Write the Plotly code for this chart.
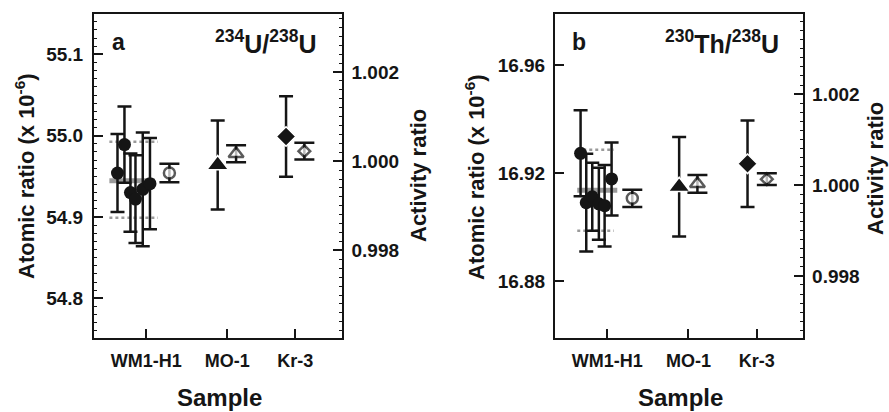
import plotly.graph_objects as go

# ---------------- data ----------------
samples = ["WM1-H1", "MO-1", "Kr-3"]
sample_pos = [1.0, 2.0, 2.84]

# panel a : 234U/238U
a_wm_x = [0.646, 0.732, 0.806, 0.868, 0.958, 1.047]
a_wm_y = [54.954, 54.989, 54.930, 54.922, 54.934, 54.941]
a_wm_err = [0.048, 0.047, 0.048, 0.054, 0.070, 0.056]
a_mean = 54.9445
a_mean_lo = 54.8990
a_mean_hi = 54.9925
a_mean_x = [0.546, 1.103]
a_band_x = [0.546, 1.144]
a_mo_x, a_mo_y, a_mo_err = [1.883], [54.964], [0.0547]
a_kr_x, a_kr_y, a_kr_err = [2.727], [54.999], [0.0496]
a_open_x = [1.287, 2.110, 2.953]
a_open_y = [0.999735, 1.000168, 1.000224]
a_open_err = [0.000206, 0.000190, 0.000187]

# panel b : 230Th/238U
b_wm_x = [0.671, 0.741, 0.815, 0.896, 0.967, 1.053]
b_wm_y = [16.9273, 16.9090, 16.9112, 16.9086, 16.9079, 16.9178]
b_wm_err = [0.0159, 0.0181, 0.0126, 0.0133, 0.0151, 0.0135]
b_mean = 16.9136
b_mean_lo = 16.8986
b_mean_hi = 16.9286
b_mean_x = [0.630, 1.123]
b_band_x = [0.630, 1.080]
b_mo_x, b_mo_y, b_mo_err = [1.885], [16.9149], [0.0184]
b_kr_x, b_kr_y, b_kr_err = [2.727], [16.9234], [0.0160]
b_open_x = [1.308, 2.110, 2.965]
b_open_y = [0.999707, 1.000026, 1.000128]
b_open_err = [0.000190, 0.000195, 0.000129]

open_symbols = ["circle", "triangle-up", "diamond"]

INK = "#151515"
GREY = "#9a9a9a"
FONT = "Liberation Sans, Arial, sans-serif"

fig = go.Figure()


def add_panel(xa, ya, ya2, wm_x, wm_y, wm_err, mean, lo, hi, mean_x, band_x,
              mo_x, mo_y, mo_err, kr_x, kr_y, kr_err, op_x, op_y, op_err):
    for v in (hi, lo):
        fig.add_trace(go.Scatter(x=band_x, y=[v, v], mode="lines", xaxis=xa, yaxis=ya,
                                 line=dict(color=GREY, width=2.5, dash="dot"),
                                 showlegend=False, hoverinfo="skip"))
    fig.add_trace(go.Scatter(x=mean_x, y=[mean, mean], mode="lines", xaxis=xa, yaxis=ya,
                             line=dict(color=GREY, width=5), showlegend=False,
                             hoverinfo="skip"))
    fig.add_trace(go.Scatter(x=wm_x, y=wm_y, mode="markers", xaxis=xa, yaxis=ya,
                             marker=dict(symbol="circle", size=13, color=INK),
                             error_y=dict(type="data", array=wm_err, color=INK,
                                          thickness=2.5, width=7),
                             showlegend=False))
    fig.add_trace(go.Scatter(x=mo_x, y=mo_y, mode="markers", xaxis=xa, yaxis=ya,
                             marker=dict(symbol="triangle-up", size=19, color=INK,
                                         line=dict(color="white", width=1.5)),
                             error_y=dict(type="data", array=mo_err, color=INK,
                                          thickness=2.5, width=7),
                             showlegend=False))
    fig.add_trace(go.Scatter(x=kr_x, y=kr_y, mode="markers", xaxis=xa, yaxis=ya,
                             marker=dict(symbol="diamond", size=15, color=INK,
                                         line=dict(color="white", width=1.5)),
                             error_y=dict(type="data", array=kr_err, color=INK,
                                          thickness=2.5, width=7),
                             showlegend=False))
    fig.add_trace(go.Scatter(x=op_x, y=op_y, mode="markers", xaxis=xa, yaxis=ya2,
                             marker=dict(symbol=open_symbols, size=[11, 13, 9],
                                         color="white", line=dict(color=INK, width=2.5)),
                             error_y=dict(type="data", array=op_err, color=INK,
                                          thickness=2.5, width=10),
                             showlegend=False))


add_panel("x", "y", "y2", a_wm_x, a_wm_y, a_wm_err, a_mean, a_mean_lo, a_mean_hi,
          a_mean_x, a_band_x, a_mo_x, a_mo_y, a_mo_err, a_kr_x, a_kr_y, a_kr_err,
          a_open_x, a_open_y, a_open_err)
add_panel("x2", "y3", "y4", b_wm_x, b_wm_y, b_wm_err, b_mean, b_mean_lo, b_mean_hi,
          b_mean_x, b_band_x, b_mo_x, b_mo_y, b_mo_err, b_kr_x, b_kr_y, b_kr_err,
          b_open_x, b_open_y, b_open_err)

W, H = 889, 412
ydom = [1 - 338 / H, 1 - 14 / H]
tickfont = dict(family=FONT, size=19, color=INK, weight="bold")

xcommon = dict(range=[0.356, 3.414], tickvals=sample_pos, ticktext=samples,
               showline=True, mirror=True, linecolor=INK, linewidth=2,
               ticks="inside", ticklen=9, tickwidth=2, tickcolor=INK,
               tickfont=dict(family=FONT, size=18, color=INK, weight="bold"),
               ticklabelstandoff=5, showgrid=False, zeroline=False)
ycommon = dict(showline=True, linecolor=INK, linewidth=2, ticks="inside", ticklen=9,
               tickwidth=2, tickcolor=INK, tickfont=tickfont, showgrid=False,
               zeroline=False)

fig.update_layout(
    width=W, height=H, margin=dict(l=0, r=0, t=0, b=0),
    paper_bgcolor="white", plot_bgcolor="white",
    xaxis=dict(domain=[94 / W, 341.7 / W], anchor="y", **xcommon),
    yaxis=dict(domain=ydom, anchor="x", range=[54.7512, 55.1496],
               tickvals=[54.8, 54.9, 55.0, 55.1], tickformat=".1f",
               ticklabelstandoff=5,
               minor=dict(dtick=0.01, ticks="inside", ticklen=3, tickwidth=1,
                          tickcolor=INK, showgrid=False),
               **ycommon),
    yaxis2=dict(overlaying="y", anchor="x", side="right", range=[0.996036, 1.0033],
                tickvals=[0.998, 1.000, 1.002], tickformat=".3f",
                ticklabelstandoff=4,
                minor=dict(dtick=0.0002, ticks="inside", ticklen=3, tickwidth=1,
                           tickcolor=INK, showgrid=False),
                **ycommon),
    xaxis2=dict(domain=[555 / W, 803.3 / W], anchor="y3", **xcommon),
    yaxis3=dict(domain=ydom, anchor="x2", range=[16.85889, 16.97889],
                tickvals=[16.88, 16.92, 16.96], tickformat=".2f",
                ticklabelstandoff=4, **ycommon),
    yaxis4=dict(overlaying="y3", anchor="x2", side="right", range=[0.996632, 1.003764],
                tickvals=[0.998, 1.000, 1.002], tickformat=".3f",
                ticklabelstandoff=3,
                minor=dict(dtick=0.0002, ticks="inside", ticklen=3, tickwidth=1,
                           tickcolor=INK, showgrid=False),
                **ycommon),
)


def ann(text, x, y, size, angle=0, xanchor="center", yanchor="middle"):
    fig.add_annotation(text=text, x=x / W, y=1 - y / H, xref="paper", yref="paper",
                       showarrow=False, textangle=angle, xanchor=xanchor,
                       yanchor=yanchor,
                       font=dict(family=FONT, size=size, color=INK, weight="bold"))


ann("a", 110, 42, 23, xanchor="left")
ann("b", 570, 42, 23, xanchor="left")
ann("<sup>234</sup>U/<sup>238</sup>U", 318, 42, 25, xanchor="right")
ann("<sup>230</sup>Th/<sup>238</sup>U", 781, 42, 25, xanchor="right")
ann("Atomic ratio (x 10<sup>-6</sup>)", 25, 176, 22, angle=-90)
ann("Atomic ratio (x 10<sup>-6</sup>)", 475, 177, 22, angle=-90)
ann("Activity ratio", 418, 176, 22, angle=-90)
ann("Activity ratio", 876, 169, 22, angle=-90)
ann("Sample", 219, 397, 24)
ann("Sample", 680, 397, 24)

fig.write_html("out.html", config={"displayModeBar": False}, post_script=(
    "document.body.style.margin='0';document.body.style.padding='0';"
    "document.documentElement.style.overflow='hidden';"))
